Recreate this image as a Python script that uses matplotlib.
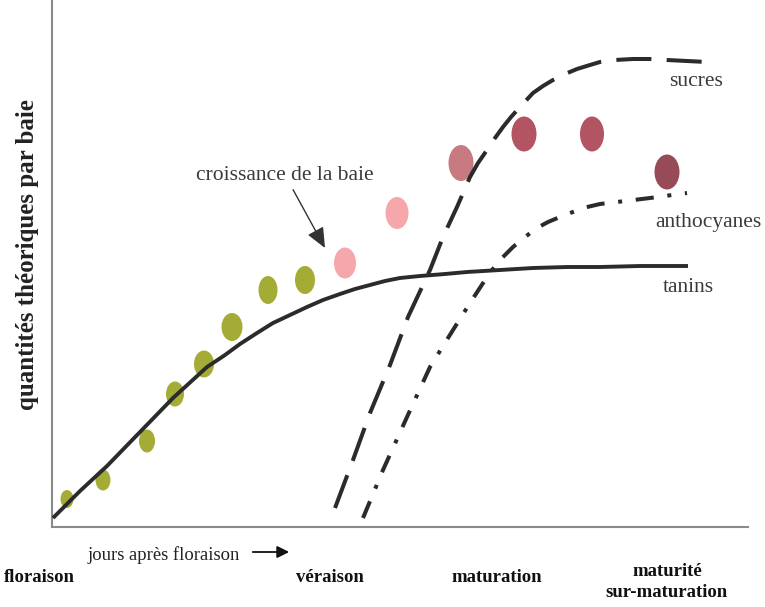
import matplotlib
matplotlib.use("Agg")
import matplotlib.pyplot as plt
from matplotlib.patches import Ellipse, FancyArrowPatch

plt.rcParams['font.family'] = ['Liberation Serif', 'DejaVu Serif']

# ---- data (x: days-like axis units, y: theoretical quantity units) ----
# berry growth dots
berry_x = [15, 51, 95, 123, 152, 180, 216, 253, 293, 345, 409, 472, 540, 615]
berry_y = [28, 47, 86, 133, 163, 200, 237, 247, 264, 314, 364, 393, 393, 355]
berry_colors = ['#a5ac35'] * 8 + ['#f6a7ac', '#f6a7ac', '#c77a80', '#b25462', '#b25462', '#964b57']

# solid curve: croissance de la baie / tanins
tanins_x = [1, 28, 55, 88, 121, 155, 173, 188, 205, 221, 238, 255, 271, 288, 303, 318, 333, 348,
            368, 393, 415, 448, 481, 515, 548, 588, 636]
tanins_y = [9, 36, 61, 95, 129, 160, 172, 183, 194, 204, 212, 220, 227, 233, 238, 242, 246, 249,
            251, 253, 255, 257, 259, 260, 260, 261, 261]

# dashed curve: sucres
sucres_x = [283, 301, 318, 338, 356, 378, 391, 405, 418, 426, 435, 443, 451, 459, 468, 481, 491,
            501, 513, 525, 538, 548, 563, 581, 598, 615, 655]
sucres_y = [19, 67, 114, 162, 210, 257, 290, 320, 350, 364, 377, 389, 400, 410, 420, 434, 441,
            447, 453, 458, 462, 465, 467, 468, 468, 467, 465]

# dash-dot curve: anthocyanes
antho_x = [311, 331, 355, 378, 401, 418, 435, 446, 461, 473, 485, 496, 508, 531, 548, 565, 598, 635]
antho_y = [9, 57, 110, 160, 197, 224, 250, 265, 280, 290, 299, 305, 310, 319, 323, 325, 329, 334]

stage_labels = ['floraison', 'véraison', 'maturation', 'maturité\nsur-maturation']

# ---- figure ----
W, H = 765, 607
fig = plt.figure(figsize=(W / 100, H / 100), dpi=100)
x0, y0 = 52, 527
ax = fig.add_axes([x0 / W, (H - y0) / H, (748 - x0) / W, y0 / H])
ax.set_xlim(0, 748 - x0)
ax.set_ylim(0, y0)
for s in ['top', 'right']:
    ax.spines[s].set_visible(False)
for s in ['left', 'bottom']:
    ax.spines[s].set_color('#8a8a8a')
    ax.spines[s].set_linewidth(1.5)
ax.set_xticks([])
ax.set_yticks([])

# dots
sizes = [(13, 18), (15, 21), (16, 23), (18, 25), (20, 27), (21, 28), (19, 28), (20, 28),
         (22, 31), (23, 32), (25, 36), (25, 35), (24, 35), (25, 35)]
for x, y, c, (w, h) in zip(berry_x, berry_y, berry_colors, sizes):
    ax.add_patch(Ellipse((x, y), w, h, facecolor=c, edgecolor='none', zorder=2))

lw = 2.9
ax.plot(tanins_x, tanins_y, color='#2b2b2b', lw=2.8, solid_capstyle='butt', solid_joinstyle='round', zorder=3)
ax.plot(sucres_x, sucres_y, color='#2b2b2b', lw=lw, linestyle=(0, (8.7, 3.8)), zorder=3)
ax.plot(antho_x, antho_y, color='#2b2b2b', lw=lw, linestyle=(0, (4.5, 3.4, 1.0, 3.4)), zorder=3)

txt_color = '#3a3a3a'
ax.text(696 - x0, y0 - 82, 'sucres', ha='center', va='center', fontsize=15.5, color=txt_color)
ax.text(708 - x0, y0 - 222, 'anthocyanes', ha='center', va='center', fontsize=15.5, color=txt_color)
ax.text(688 - x0, y0 - 287, 'tanins', ha='center', va='center', fontsize=15.5, color=txt_color)
ax.annotate('croissance de la baie', xy=(325 - x0, y0 - 248), xytext=(285 - x0, y0 - 175),
            ha='center', va='center', fontsize=15.5, color=txt_color,
            arrowprops=dict(arrowstyle='-|>,head_length=0.8,head_width=0.35', color='#333333',
                            lw=1.0, shrinkA=2, shrinkB=0))

# y label
fig.text(28 / W, 1 - 255 / H, 'quantités théoriques par baie', rotation=90, ha='center', va='center',
         fontsize=18, fontweight='bold', color='#222222')

# bottom labels
fig.text(164 / W, 1 - 555 / H, 'jours après floraison', ha='center', va='center', fontsize=13.4, color='#222222')
fig.patches.append(FancyArrowPatch((250 / W, 1 - 552 / H), (292 / W, 1 - 552 / H),
                   transform=fig.transFigure, arrowstyle='-|>,head_length=0.6,head_width=0.3',
                   color='#111111', lw=1.3, mutation_scale=12))
label_pos = [(39, 577), (330, 577), (497, 577), (667, 582)]
for lab, (px, py) in zip(stage_labels, label_pos):
    fig.text(px / W, 1 - py / H, lab, ha='center', va='center', fontsize=13.5, fontweight='bold',
             color='#111111', linespacing=1.25, multialignment='center')

fig.savefig('out.png', dpi=100)
